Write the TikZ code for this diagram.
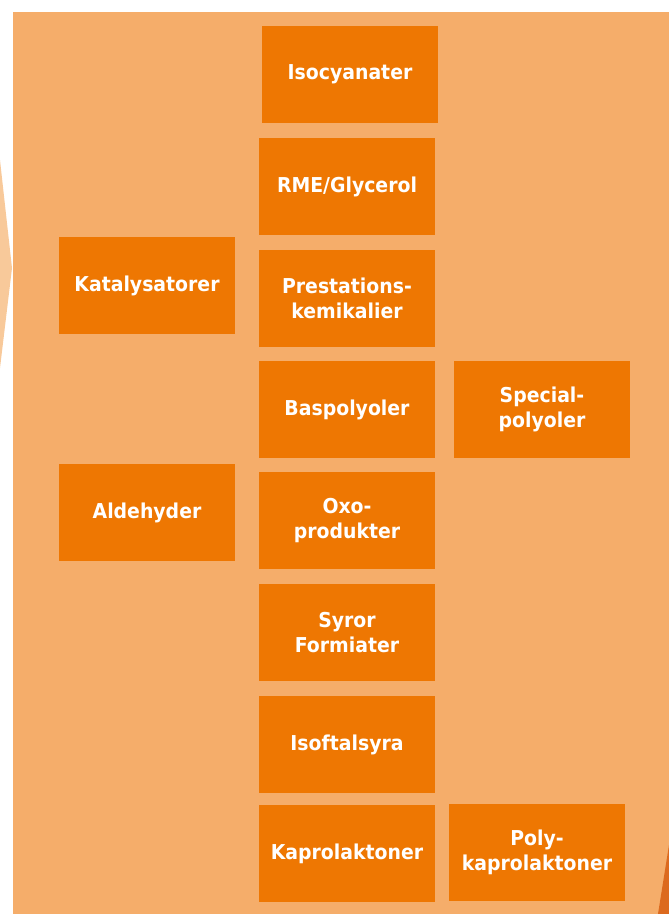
\documentclass[tikz,border=0pt]{standalone}
\usepackage{fontspec}
\newfontfamily\boxfont{DejaVu Sans}[FakeStretch=0.92]
\definecolor{bgorange}{HTML}{F5AD6A}
\definecolor{boxorange}{HTML}{EE7702}
\definecolor{lightorange}{HTML}{F8C99A}
\definecolor{darkorange}{HTML}{DC6A1E}
\begin{document}
\begin{tikzpicture}[x=1pt,y=-1pt,
  chem/.style={fill=boxorange, text=white, minimum width=176pt, minimum height=97pt,
    inner sep=0pt, align=center, font=\boxfont\bfseries\fontsize{20.5}{25}\selectfont}]
\useasboundingbox (0,0) rectangle (669,914);
% background
\fill[lightorange] (0,160) -- (12,268) -- (0,368) -- cycle;
\fill[bgorange] (13,12) rectangle (669,914);
\fill[darkorange] (669,845) -- (658,914) -- (669,914) -- cycle;
% middle column
\node[chem] (iso) at (350,74.5){Isocyanater};
\node[chem] (rme) at (347,186.5){RME/Glycerol};
\node[chem] (prest) at (347,298){Prestations-\\kemikalier};
\node[chem] (baspol) at (347,409.5){Baspolyoler};
\node[chem] (oxo) at (347,520.5){Oxo-\\produkter};
\node[chem] (syror) at (347,632.5){Syror\\Formiater};
\node[chem] (isoft) at (347,744.5){Isoftalsyra};
\node[chem] (kaprol) at (347,853.5){Kaprolaktoner};
% left column
\node[chem] (katal) at (147,285.5){Katalysatorer};
\node[chem] (aldeh) at (147,512.5){Aldehyder};
% right column
\node[chem] (specpol) at (542,409.5){Special-\\polyoler};
\node[chem] (polykap) at (537,852.5){Poly-\\kaprolaktoner};
\end{tikzpicture}
\end{document}
